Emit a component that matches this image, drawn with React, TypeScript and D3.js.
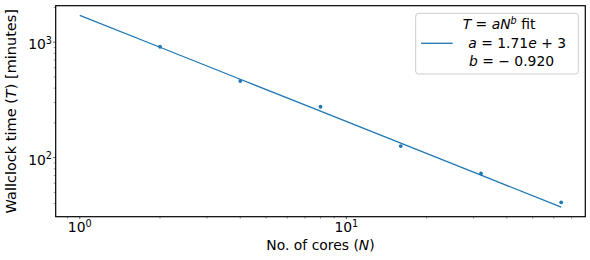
import React from 'react';
import * as d3 from 'd3';

const width = 590;
const height = 260;
const margin = { left: 55.7, right: 4.7, top: 5.7, bottom: 43.3 };
const fontFamily = '"DejaVu Sans", sans-serif';
const fontSize = 13.9;
const supSize = 9.7;
const blue = '#1f77b4';

// measured runs
const cores = [2, 4, 8, 16, 32, 64];
const wallclock = [913, 461, 276, 126, 73, 41];

// fit T = a N^b
const fitA = 1710;
const fitB = -0.92;
const fitCores = [1, 2, 4, 8, 16, 32, 64];

const xMajorTicks = [1, 10];
const xMajorExponents = ['0', '1'];
const yMajorTicks = [100, 1000];
const yMajorExponents = ['2', '3'];

const fitValues = fitCores.map(n => fitA * Math.pow(n, fitB));

// matplotlib-style 5% padding in log space
const padLog = (vals: number[]) => {
  const lo = Math.log10(d3.min(vals) as number);
  const hi = Math.log10(d3.max(vals) as number);
  const p = (hi - lo) * 0.05;
  return [Math.pow(10, lo - p), Math.pow(10, hi + p)];
};

const x = d3.scaleLog()
  .domain(padLog([...cores, ...fitCores]))
  .range([margin.left, width - margin.right]);

const y = d3.scaleLog()
  .domain(padLog([...wallclock, ...fitValues]))
  .range([height - margin.bottom, margin.top]);

const minorTicks = (scale: d3.ScaleLogarithmic<number, number>) => {
  const [d0, d1] = scale.domain();
  const out: number[] = [];
  for (let e = Math.floor(Math.log10(d0)); e <= Math.ceil(Math.log10(d1)); e++) {
    for (let k = 2; k <= 9; k++) {
      const v = k * Math.pow(10, e);
      if (v >= d0 && v <= d1) out.push(v);
    }
  }
  return out;
};

const fitLine = d3.line<number>()
  .x(n => x(n))
  .y(n => y(fitA * Math.pow(n, fitB)));

const x0 = margin.left;
const x1 = width - margin.right;
const y0 = margin.top;
const y1 = height - margin.bottom;

const App = () => (
  <svg
    width={width}
    height={height}
    style={{ position: 'absolute', left: 0, top: 0, background: 'white' }}
    fontFamily={fontFamily}
    fontSize={fontSize}
  >
    <rect width={width} height={height} fill="white" />

    <path d={fitLine(fitCores) as string} fill="none" stroke={blue} strokeWidth={1.3} />
    {cores.map((n, i) => (
      <circle key={n} cx={x(n)} cy={y(wallclock[i])} r={1.9} fill={blue} />
    ))}

    {/* x ticks */}
    {minorTicks(x).map(v => (
      <line key={'xm' + v} x1={x(v)} x2={x(v)} y1={y1} y2={y1 + 2} stroke="#555" strokeWidth={0.6} />
    ))}
    {xMajorTicks.map((v, i) => (
      <g key={'xM' + v}>
        <line x1={x(v)} x2={x(v)} y1={y1} y2={y1 + 2.5} stroke="#333" strokeWidth={0.8} />
        <text x={x(v)} y={232} textAnchor="middle" fill="black">
          10<tspan fontSize={supSize} dy={-5.5}>{xMajorExponents[i]}</tspan>
        </text>
      </g>
    ))}

    {/* y ticks */}
    {minorTicks(y).map(v => (
      <line key={'ym' + v} x1={x0} x2={x0 - 2} y1={y(v)} y2={y(v)} stroke="#555" strokeWidth={0.6} />
    ))}
    {yMajorTicks.map((v, i) => (
      <g key={'yM' + v}>
        <line x1={x0} x2={x0 - 2.5} y1={y(v)} y2={y(v)} stroke="#333" strokeWidth={0.8} />
        <text x={52} y={y(v) + 7} textAnchor="end" fill="black">
          10<tspan fontSize={supSize} dy={-5.5}>{yMajorExponents[i]}</tspan>
        </text>
      </g>
    ))}

    <rect x={x0} y={y0} width={x1 - x0} height={y1 - y0} fill="none" stroke="black" strokeWidth={1.2} />

    {/* axis labels */}
    <text x={(x0 + x1) / 2} y={250} textAnchor="middle" fill="black">
      No. of cores (<tspan fontStyle="italic">N</tspan>)
    </text>
    <text transform={`translate(15.5,${(y0 + y1) / 2}) rotate(-90)`} textAnchor="middle" fill="black" fontSize={14.5}>
      Wallclock time (<tspan fontStyle="italic">T</tspan>) [minutes]
    </text>

    {/* legend */}
    <rect x={415.7} y={13.3} width={162.6} height={60.7} rx={3} fill="white" fillOpacity={0.8} stroke="#cccccc" strokeWidth={1} />
    <line x1={421} x2={452.7} y1={43.3} y2={43.3} stroke={blue} strokeWidth={1.3} />
    <text x={462.7} y={29.3} fill="black">
      <tspan fontStyle="italic">T</tspan> = <tspan fontStyle="italic">aN</tspan>
      <tspan fontStyle="italic" fontSize={supSize} dy={-5.5}>b</tspan>
      <tspan dy={5.5}> fit</tspan>
    </text>
    <text x={468.3} y={47.7} fill="black">
      <tspan fontStyle="italic">a</tspan> = 1.71<tspan fontStyle="italic">e</tspan> + 3
    </text>
    <text x={469} y={65.7} fill="black">
      <tspan fontStyle="italic">b</tspan> = − 0.920
    </text>
  </svg>
);

export default App;
